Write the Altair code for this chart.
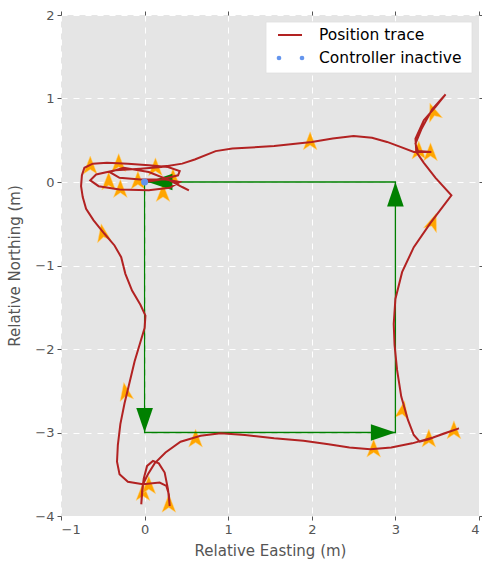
import altair as alt
import pandas as pd

# Robot position trace (metres, relative to start point)
trace_x = [0.00, 0.20, 0.40, 0.42, 0.28, 0.05, -0.20, -0.45, -0.62, -0.72, -0.75, -0.76, -0.74,
           -0.70, -0.61, -0.48, -0.36, -0.28, -0.23, -0.15, -0.05, 0.01, 0.00, -0.06, -0.12,
           -0.18, -0.24, -0.29, -0.32, -0.33, -0.30, -0.20, -0.02, 0.18, 0.26, 0.29, 0.30,
           0.28, 0.24, 0.17, 0.10, 0.03, -0.01, -0.03, -0.04, -0.02, 0.04, 0.12, 0.25, 0.43,
           0.67, 0.91, 1.20, 1.55, 1.90, 2.20, 2.45, 2.70, 2.95, 3.20, 3.45, 3.62, 3.76, 3.58,
           3.40, 3.29, 3.22, 3.15, 3.07, 3.02, 2.99, 2.98, 3.00, 3.08, 3.22, 3.42, 3.67, 3.48,
           3.34, 3.25, 3.24, 3.34, 3.48, 3.60, 3.44, 3.31, 3.24, 3.27, 3.43, 3.22, 3.06, 2.90,
           2.72, 2.50, 2.25, 2.00, 1.55, 1.05, 0.85, 0.60, 0.45, 0.20, -0.05, -0.35, -0.58,
           -0.65, -0.55, -0.30, 0.05, 0.30, 0.42, 0.25, -0.05, -0.30, -0.42, -0.25, 0.05, 0.30,
           0.45, 0.53]
trace_y = [0.00, 0.03, 0.08, 0.13, 0.18, 0.20, 0.22, 0.23, 0.22, 0.17, 0.08, -0.05, -0.18,
           -0.32, -0.46, -0.62, -0.76, -0.90, -1.10, -1.30, -1.47, -1.60, -1.75, -1.95, -2.15,
           -2.40, -2.65, -2.90, -3.15, -3.35, -3.50, -3.59, -3.62, -3.60, -3.64, -3.74, -3.88,
           -3.68, -3.48, -3.37, -3.34, -3.40, -3.55, -3.70, -3.86, -3.62, -3.50, -3.37, -3.24,
           -3.11, -3.04, -3.01, -3.03, -3.07, -3.10, -3.14, -3.18, -3.20, -3.18, -3.13, -3.06,
           -3.00, -2.95, -3.01, -3.08, -3.11, -3.03, -2.85, -2.57, -2.25, -1.95, -1.70, -1.40,
           -1.08, -0.78, -0.49, -0.16, 0.05, 0.23, 0.36, 0.52, 0.74, 0.90, 1.05, 0.87, 0.63,
           0.46, 0.37, 0.36, 0.36, 0.42, 0.48, 0.53, 0.55, 0.52, 0.48, 0.43, 0.40, 0.37, 0.27,
           0.22, 0.18, 0.16, 0.14, 0.09, 0.02, -0.05, -0.09, -0.10, -0.07, 0.00, 0.03, 0.03,
           0.05, 0.12, 0.17, 0.12, 0.02, -0.06, -0.10]

# Heading markers dropped along the trace (heading in degrees, clockwise from north)
marker_x = [-0.65, -0.31, 0.13, -0.43, -0.29, -0.08, 0.22, 0.34, -0.50, -0.23, -0.02, 0.05,
            0.29, 0.61, 1.98, 3.45, 3.28, 3.42, 3.45, 3.09, 2.74, 3.40, 3.70]
marker_y = [0.20, 0.23, 0.18, 0.01, -0.08, 0.02, -0.13, 0.05, -0.61, -2.51, -3.71, -3.63,
            -3.85, -3.07, 0.49, 0.84, 0.38, 0.36, -0.48, -2.73, -3.19, -3.07, -2.97]
marker_heading = [0, 0, 0, 0, 0, 0, 0, 0, 350, 350, 0, 0, 0, 0, 0, 340, 0, 0, 20, 10, 0, 0, 0]

# Commanded square path, driven counter-clockwise
square_x = [0, 0, 3, 3, 0]
square_y = [0, -3, -3, 0, 0]

# Arrowheads at the end of each leg (tip position, heading in degrees)
arrow_x = [0, 3, 3, 0.04]
arrow_y = [-3, -3, 0, 0]
arrow_heading = [180, 90, 0, 270]

# Samples where the controller was inactive
inactive_x = [0.0]
inactive_y = [0.0]

trace = pd.DataFrame({"x": trace_x, "y": trace_y, "i": range(len(trace_x))})
markers = pd.DataFrame({"x": marker_x, "y": marker_y, "h": marker_heading})
square = pd.DataFrame({"x": square_x, "y": square_y, "i": range(len(square_x))})
arrows = pd.DataFrame({"x": arrow_x, "y": arrow_y, "h": arrow_heading})
inactive = pd.DataFrame({"x": inactive_x, "y": inactive_y})

FONT = "DejaVu Sans"
GREY = "#555555"

xscale = alt.Scale(domain=[-1, 4], nice=False, zero=False)
yscale = alt.Scale(domain=[-4, 2], nice=False, zero=False)

common_axis = dict(
    grid=True, gridColor="white", gridDash=[6, 6], gridWidth=1, domain=False,
    tickColor=GREY, tickSize=4, tickWidth=1, labelColor=GREY, labelFontSize=13,
    labelFont=FONT, titleFont=FONT, titleFontSize=15, titleColor=GREY,
    titleFontWeight="normal", labelPadding=3, format="d",
)

X = alt.X("x:Q", scale=xscale,
          axis=alt.Axis(title="Relative Easting (m)", values=[-1, 0, 1, 2, 3, 4],
                        titlePadding=7, **common_axis))
Y = alt.Y("y:Q", scale=yscale,
          axis=alt.Axis(title="Relative Northing (m)", values=[-4, -3, -2, -1, 0, 1, 2],
                        titlePadding=12, **common_axis))
# Plain positional encodings for the layers that draw no axis of their own
Xp = alt.X("x:Q", scale=xscale, axis=None)
Yp = alt.Y("y:Q", scale=yscale, axis=None)

marker_path = "M0,-1L0.75,0.95L0,0.45L-0.75,0.95Z"
head_path = "M0,0L0.68,2L-0.68,2Z"

star_layer = alt.Chart(markers).mark_point(
    shape=marker_path, filled=True, fill="#FFA500", fillOpacity=1, size=340,
    stroke="#FFD27F", strokeWidth=0.5, opacity=1,
).encode(x=X, y=Y, angle=alt.Angle("h:Q", scale=None))

square_layer = alt.Chart(square).mark_line(color="#008000", strokeWidth=1.3).encode(
    x=Xp, y=Yp, order="i:Q")

arrow_layer = alt.Chart(arrows).mark_point(
    shape=head_path, filled=True, fill="#008000", fillOpacity=1, size=600, strokeWidth=0,
    opacity=1,
).encode(x=Xp, y=Yp, angle=alt.Angle("h:Q", scale=None))

trace_layer = alt.Chart(trace).mark_line(color="#B22222", strokeWidth=2).encode(
    x=Xp, y=Yp, order="i:Q")

# Inactive samples, which also carry the tick-only frame axes on top and right
frame_axis = dict(grid=False, domain=False, labels=False, tickColor=GREY, tickSize=4,
                  tickWidth=1, title=None)
inactive_layer = alt.Chart(inactive).mark_point(
    shape="circle", filled=True, fill="#6495ED", fillOpacity=1, size=50, strokeWidth=0,
    opacity=1,
).encode(
    x=alt.X("x:Q", scale=xscale,
            axis=alt.Axis(orient="top", values=[-1, 0, 1, 2, 3, 4], **frame_axis)),
    y=alt.Y("y:Q", scale=yscale,
            axis=alt.Axis(orient="right", values=[-4, -3, -2, -1, 0, 1, 2], **frame_axis)),
)

# Legend box drawn in pixel space at the top-right of the plot
one = pd.DataFrame({"k": [0]})
legend_box = alt.Chart(one).mark_rect(fill="white", stroke="#e0e0e0", strokeWidth=0.8).encode(
    x=alt.value(205), x2=alt.value(411), y=alt.value(7), y2=alt.value(58))
legend_line = alt.Chart(one).mark_rule(color="#B22222", strokeWidth=2).encode(
    x=alt.value(217), x2=alt.value(241), y=alt.value(20))
legend_dots = alt.Chart(pd.DataFrame({"px": [218, 241]})).mark_point(
    shape="circle", filled=True, fill="#6495ED", fillOpacity=1, size=22, strokeWidth=0,
    opacity=1,
).encode(x=alt.X("px:Q", scale=None, axis=None), y=alt.value(43))
legend_text = alt.Chart(pd.DataFrame({"label": ["Position trace", "Controller inactive"],
                                      "py": [20, 43]})).mark_text(
    align="left", baseline="middle", font=FONT, fontSize=15.5, color="black",
).encode(x=alt.value(258), y=alt.Y("py:Q", scale=None, axis=None), text="label:N")

chart = alt.layer(
    star_layer, square_layer, arrow_layer, trace_layer, inactive_layer,
    legend_box, legend_line, legend_dots, legend_text,
).resolve_axis(x="independent", y="independent").properties(
    width=418, height=501,
    padding={"left": 61, "top": 15, "right": 3, "bottom": 49},
    autosize=alt.AutoSizeParams(type="none"),
    background="white",
).configure_view(fill="#E5E5E5", stroke=None)

chart.save("out.html", embed_options={"renderer": "svg", "actions": False})
